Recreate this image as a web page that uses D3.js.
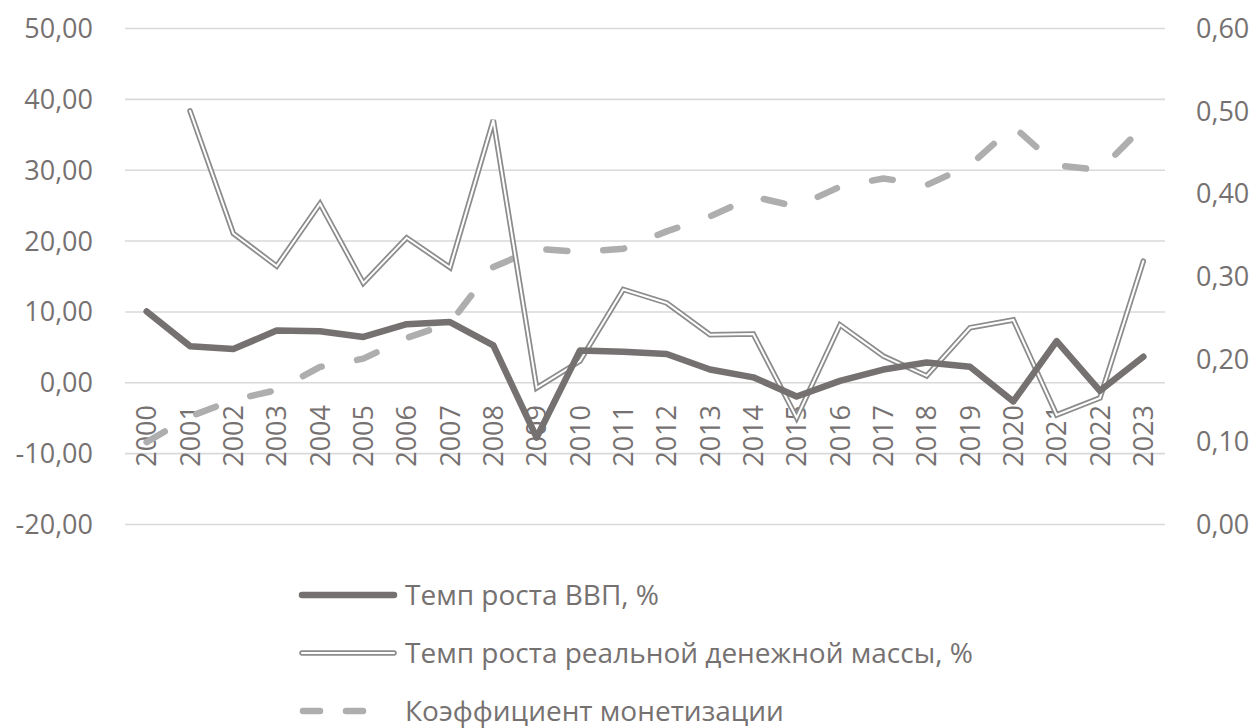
<!DOCTYPE html>
<html>
<head>
<meta charset="utf-8">
<script src="https://cdn.jsdelivr.net/npm/d3@7"></script>
<style>
  body { margin: 0; background: #fff; }
  text { font-family: "Open Sans", sans-serif; fill: #767171; }
</style>
</head>
<body>
<div id="chart"></div>
<script>
// data
const years = ["2000","2001","2002","2003","2004","2005","2006","2007","2008","2009","2010","2011",
  "2012","2013","2014","2015","2016","2017","2018","2019","2020","2021","2022","2023"];
const gdpGrowth = [10.0, 5.1, 4.7, 7.3, 7.2, 6.4, 8.2, 8.5, 5.2, -7.8, 4.5, 4.3,
  4.0, 1.8, 0.7, -2.0, 0.2, 1.8, 2.8, 2.2, -2.7, 5.8, -1.2, 3.6];
const moneyGrowth = [null, 38.3, 21.0, 16.4, 25.2, 14.0, 20.4, 16.2, 37.0, -0.8, 3.0, 13.1,
  11.2, 6.7, 6.8, -5.0, 8.1, 3.7, 0.9, 7.7, 8.8, -4.6, -2.2, 17.1];
const monetization = [0.099, 0.130, 0.150, 0.162, 0.190, 0.200, 0.225, 0.243, 0.311, 0.333, 0.329, 0.333,
  0.354, 0.372, 0.396, 0.384, 0.408, 0.418, 0.410, 0.434, 0.481, 0.434, 0.428, 0.481];
const leftTicks = [-20, -10, 0, 10, 20, 30, 40, 50];
const rightTicks = [0, 0.1, 0.2, 0.3, 0.4, 0.5, 0.6];
const seriesNames = ["Темп роста ВВП, %", "Темп роста реальной денежной массы, %", "Коэффициент монетизации"];

const width = 1255;
const height = 728;
const plot = { left: 125, right: 1165, top: 28, bottom: 524 };

const svg = d3.select("#chart")
  .append("svg")
  .attr("width", width)
  .attr("height", height);

// scales
const x = d3.scalePoint().domain(years).range([plot.left, plot.right]).padding(0.5);
const yL = d3.scaleLinear().domain([-20, 50]).range([plot.bottom, plot.top]);
const yR = d3.scaleLinear().domain([0, 0.6]).range([plot.bottom, plot.top]);

// comma decimals, plain hyphen for minus
const fmt = (n) => d3.format(".2f")(n).replace(".", ",").replace("\u2212", "-");

// gridlines + left axis
const leftAxis = d3.axisLeft(yL)
  .tickValues(leftTicks)
  .tickSize(-(plot.right - plot.left))
  .tickPadding(32)
  .tickFormat(fmt);

const gl = svg.append("g")
  .attr("transform", `translate(${plot.left},0)`)
  .call(leftAxis);
gl.select(".domain").remove();
gl.selectAll(".tick line").attr("stroke", "#d9d9d9").attr("stroke-width", 1.6);
gl.selectAll(".tick text")
  .attr("font-size", 27)
  .attr("fill", "#767171")
  .attr("dy", "0.35em");

// right axis (labels only)
const rightAxis = d3.axisRight(yR)
  .tickValues(rightTicks)
  .tickSize(0)
  .tickPadding(31)
  .tickFormat(fmt);

const gr = svg.append("g")
  .attr("transform", `translate(${plot.right},0)`)
  .call(rightAxis);
gr.select(".domain").remove();
gr.selectAll(".tick text")
  .attr("font-size", 27)
  .attr("fill", "#767171")
  .attr("dy", "0.35em");

// category labels, rotated
svg.append("g")
  .selectAll("text")
  .data(years)
  .join("text")
  .attr("transform", (d) => `translate(${x(d)},405) rotate(-90)`)
  .attr("text-anchor", "end")
  .attr("dy", "0.36em")
  .attr("font-size", 27)
  .text((d) => d);

// lines
const lineL = d3.line()
  .defined((d) => d != null)
  .x((d, i) => x(years[i]))
  .y((d) => yL(d));

const lineR = d3.line()
  .x((d, i) => x(years[i]))
  .y((d) => yR(d));

// monetization coefficient (dashed, right axis)
svg.append("path")
  .attr("d", lineR(monetization))
  .attr("fill", "none")
  .attr("stroke", "#aeaeae")
  .attr("stroke-width", 6.5)
  .attr("stroke-linecap", "round")
  .attr("stroke-linejoin", "round")
  .attr("stroke-dasharray", "21,36");

// money mass growth (double line)
svg.append("path")
  .attr("d", lineL(moneyGrowth))
  .attr("fill", "none")
  .attr("stroke", "#8c8c8c")
  .attr("stroke-width", 5.5)
  .attr("stroke-linejoin", "miter")
  .attr("stroke-linecap", "round");
svg.append("path")
  .attr("d", lineL(moneyGrowth))
  .attr("fill", "none")
  .attr("stroke", "#ffffff")
  .attr("stroke-width", 2)
  .attr("stroke-linejoin", "miter")
  .attr("stroke-linecap", "round");

// GDP growth
svg.append("path")
  .attr("d", lineL(gdpGrowth))
  .attr("fill", "none")
  .attr("stroke", "#767171")
  .attr("stroke-width", 6.5)
  .attr("stroke-linejoin", "round")
  .attr("stroke-linecap", "round");

// legend
const legend = svg.append("g")
  .selectAll("g")
  .data(seriesNames)
  .join("g")
  .attr("transform", (d, i) => `translate(0,${595 + i * 58})`);

legend.append("text")
  .attr("x", 405)
  .attr("dy", "0.35em")
  .attr("font-size", 28)
  .text((d) => d);

legend.filter((d, i) => i === 0)
  .append("line")
  .attr("x1", 302).attr("x2", 394)
  .attr("stroke", "#767171")
  .attr("stroke-width", 6.5)
  .attr("stroke-linecap", "round");

const l2 = legend.filter((d, i) => i === 1);
l2.append("line")
  .attr("x1", 302).attr("x2", 394)
  .attr("stroke", "#8c8c8c")
  .attr("stroke-width", 5.5)
  .attr("stroke-linecap", "round");
l2.append("line")
  .attr("x1", 302).attr("x2", 394)
  .attr("stroke", "#fff")
  .attr("stroke-width", 2)
  .attr("stroke-linecap", "round");

legend.filter((d, i) => i === 2)
  .append("line")
  .attr("x1", 303).attr("x2", 366)
  .attr("stroke", "#aeaeae")
  .attr("stroke-width", 6.5)
  .attr("stroke-linecap", "round")
  .attr("stroke-dasharray", "17,26");
</script>
</body>
</html>
